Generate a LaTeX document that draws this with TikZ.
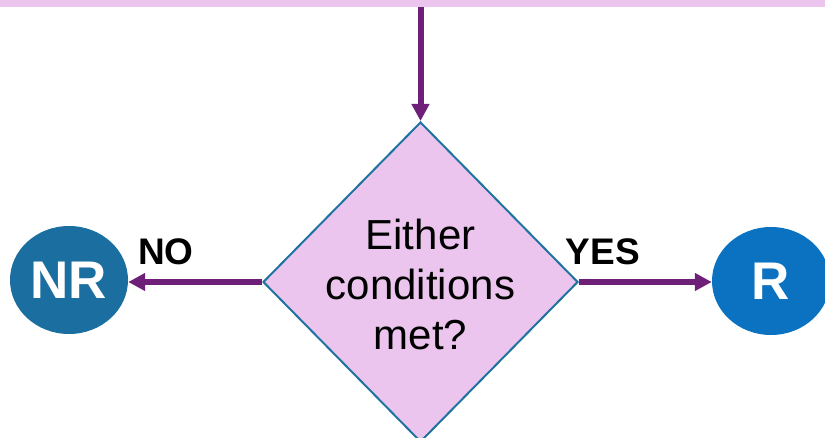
\documentclass[tikz,border=0pt]{standalone}
\usepackage{fontspec}
\setmainfont{Liberation Sans}
\usetikzlibrary{shapes.geometric,arrows.meta}
\definecolor{lav}{HTML}{EBC5EE}
\definecolor{purp}{HTML}{6E1F78}
\definecolor{dblue}{HTML}{1A6FA0}
\definecolor{rblue}{HTML}{0A72C0}
\definecolor{edge}{HTML}{1E73A0}
\tikzset{
  conn/.style={draw=purp, line width=6pt, -{Triangle[length=17pt,width=17pt]}},
  ball/.style={ellipse, minimum width=118pt, minimum height=108pt, inner sep=0pt, text=white, font=\bfseries\fontsize{53}{53}\selectfont},
  lbl/.style={font=\bfseries\fontsize{37}{37}\selectfont, anchor=base, inner sep=0pt},
}
\begin{document}
\begin{tikzpicture}[x=1pt,y=-1pt]
\useasboundingbox (0,0) rectangle (825,438);
\node[fill=lav, minimum width=825pt, minimum height=7pt, inner sep=0pt, anchor=north west] (bar) at (0,0) {};
\node[diamond, draw=edge, line width=2pt, fill=lav, minimum width=315pt, minimum height=320pt, inner sep=0pt] (dec) at (420.5,282) {};
\node[align=center, font=\fontsize{42}{50}\selectfont, inner sep=0pt] (q) at (420.5,284) {Either\\conditions\\met?};
\node[ball, fill=dblue] (nr) at (69,280) {NR};
\node[ball, fill=rblue] (r) at (771,281) {R};
\coordinate (top) at (420.5,7);
\draw[conn] (top) -- (dec.north);
\draw[conn] (dec.west) -- (nr.east |- dec.west);
\draw[conn] (dec.east) -- (r.west |- dec.east);
\node[lbl] (no) at (166,265) {NO};
\node[lbl] (yes) at (603,265) {YES};
\end{tikzpicture}
\end{document}
